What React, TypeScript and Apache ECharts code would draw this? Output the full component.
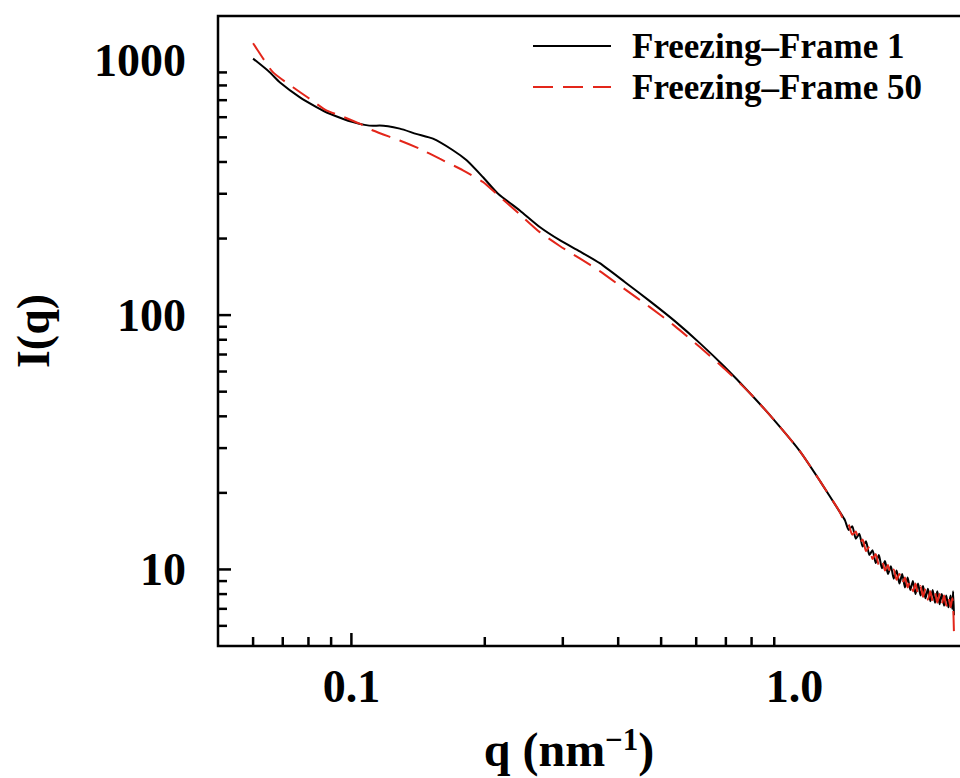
import React, { useEffect, useRef } from 'react';
import * as echarts from 'echarts';

// ---- data (q in nm^-1, I(q) arbitrary units) ----
const seriesNames = ['Freezing–Frame 1', 'Freezing–Frame 50'];

const qFrame1 = [
  0.060, 0.0654, 0.0689, 0.0764, 0.0834, 0.0894, 0.1008, 0.1119, 0.1158, 0.1286,
  0.140, 0.1528, 0.1695, 0.182, 0.198, 0.2143, 0.2399, 0.2661, 0.2953, 0.3276,
  0.3635, 0.4139, 0.4715, 0.537, 0.6113, 0.696, 0.7925, 0.9026, 1.028, 1.141,
  1.266,
  1.30, 1.325, 1.35, 1.375, 1.40, 1.425, 1.45, 1.475, 1.50, 1.525,
  1.55, 1.575, 1.60, 1.625, 1.65, 1.675, 1.70, 1.725, 1.75, 1.775,
  1.80, 1.825, 1.85, 1.875, 1.90, 1.925, 1.95, 1.975, 2.00, 2.025,
  2.05, 2.075, 2.10, 2.125, 2.15, 2.175, 2.20, 2.225, 2.25, 2.27,
  2.28, 2.29,
];
const iFrame1 = [
  1020, 902, 824, 720, 658, 619, 574, 555, 556, 541,
  516, 494, 445, 406, 349, 300, 258, 222, 197, 178,
  160, 135, 113.5, 94.7, 77.6, 62.5, 49.4, 38.4, 29.2, 22.3,
  16.8,
  15.6, 14.3, 14.8, 13.2, 13.8, 12.3, 12.9, 11.4, 11.9, 10.6,
  11.4, 10.1, 10.8, 9.6, 10.3, 9.2, 9.9, 8.8, 9.6, 8.5,
  9.3, 8.3, 9.0, 8.0, 8.8, 7.9, 8.6, 7.7, 8.4, 7.5,
  8.3, 7.4, 8.2, 7.3, 8.0, 7.2, 7.9, 7.1, 7.9, 7.0,
  8.2, 6.6,
];

const qFrame50 = [
  0.060, 0.0615, 0.0665, 0.0738, 0.0805, 0.0878, 0.0941, 0.1044, 0.1119, 0.1286,
  0.1426, 0.1582, 0.1786, 0.198, 0.2125, 0.2399, 0.2661, 0.2953, 0.3276, 0.3635,
  0.4139, 0.4715, 0.537, 0.6113, 0.696, 0.7925, 0.9026, 1.028, 1.141, 1.266,
  1.30, 1.325, 1.35, 1.375, 1.40, 1.425, 1.45, 1.475, 1.50, 1.525,
  1.55, 1.575, 1.60, 1.625, 1.65, 1.675, 1.70, 1.725, 1.75, 1.775,
  1.80, 1.825, 1.85, 1.875, 1.90, 1.925, 1.95, 1.975, 2.00, 2.025,
  2.05, 2.075, 2.10, 2.125, 2.15, 2.175, 2.20, 2.225, 2.25, 2.27,
  2.28, 2.29,
];
const iFrame50 = [
  1172, 1097, 902, 787, 709, 638, 610, 566, 532, 486,
  451, 412, 371, 334, 300, 249, 212, 187, 167, 149,
  126.5, 107.5, 90.5, 74.9, 61.4, 49.4, 38.4, 29.2, 22.3, 16.8,
  15.2, 15.0, 13.7, 14.1, 12.7, 13.1, 11.8, 12.3, 11.0, 11.5,
  10.4, 10.9, 9.9, 10.4, 9.5, 10.0, 9.1, 9.6, 8.8, 9.3,
  8.5, 9.0, 8.2, 8.8, 8.0, 8.6, 7.8, 8.4, 7.6, 8.2,
  7.5, 8.1, 7.4, 8.0, 7.3, 7.9, 7.2, 7.8, 7.1, 7.7,
  7.3, 5.6,
];

// axis ranges and ticks
const X_MIN = 0.05;
const X_MAX = 2.4;
const Y_MIN = 5;
const Y_MAX = 1500;
const xMajorTicks = [0.1];
const xMinorTicks = [0.06, 0.07, 0.08, 0.09, 0.2, 0.3, 0.4, 0.5, 0.6, 0.7, 0.8, 0.9];
const xLabelValues = [0.1, 1.0];
const xLabelTexts = ['0.1', '1.0'];
const yMajorTicks = [10, 100];
const yMinorTicks = [6, 7, 8, 9, 20, 30, 40, 50, 60, 70, 80, 90, 200, 300, 400, 500, 600, 700, 800, 900];
const yLabelValues = [10, 100, 1000];
const yLabelTexts = ['10', '100', '1000'];

const FONT = "'Liberation Serif', 'Times New Roman', Times, serif";

function zip(a: number[], b: number[]) {
  return a.map((v, i) => [v, b[i]]);
}

export default function App() {
  const ref = useRef<HTMLDivElement>(null);

  useEffect(() => {
    if (!ref.current) return;
    const chart = echarts.init(ref.current, null, { renderer: 'svg' });

    const xTickData = [
      ...xMajorTicks.map((v) => [v, Y_MIN, 1]),
      ...xMinorTicks.map((v) => [v, Y_MIN, 0]),
    ];
    const yTickData = [
      ...yMajorTicks.map((v) => [X_MIN, v, 1]),
      ...yMinorTicks.map((v) => [X_MIN, v, 0]),
    ];

    const textStyleBase = {
      fill: '#000',
      fontFamily: FONT,
      fontWeight: 'bold',
      fontSize: 46,
    };

    const option: any = {
      animation: false,
      backgroundColor: '#fff',
      grid: {
        left: 218,
        top: 16,
        width: 745,
        height: 630,
        show: true,
        borderColor: '#000',
        borderWidth: 2.5,
        backgroundColor: 'transparent',
        outerBoundsMode: 'none',
      },
      xAxis: {
        type: 'log',
        logBase: 10,
        min: X_MIN,
        max: X_MAX,
        axisLine: { show: false },
        axisTick: { show: false },
        axisLabel: { show: false },
        splitLine: { show: false },
      },
      yAxis: {
        type: 'log',
        logBase: 10,
        min: Y_MIN,
        max: Y_MAX,
        axisLine: { show: false },
        axisTick: { show: false },
        axisLabel: { show: false },
        splitLine: { show: false },
      },
      legend: {
        orient: 'vertical',
        left: 527,
        top: 22,
        itemWidth: 78,
        itemHeight: 20,
        itemGap: 3,
        selectedMode: false,
        data: seriesNames,
        itemStyle: { opacity: 0 },
        textStyle: {
          fontFamily: FONT,
          fontSize: 35,
          fontWeight: 'bold',
          color: '#000',
          lineHeight: 38,
          padding: [0, 0, 0, 16],
        },
      },
      graphic: [
        {
          type: 'text',
          x: 33,
          y: 331,
          rotation: Math.PI / 2,
          style: {
            ...textStyleBase,
            text: 'I(q)',
            align: 'center',
            verticalAlign: 'middle',
            textAlign: 'center',
            textVerticalAlign: 'middle',
          },
        },
        {
          type: 'text',
          x: 569,
          y: 749,
          style: {
            text: '{a|q (nm}{b|−1}{a|)}',
            align: 'center',
            verticalAlign: 'middle',
            textAlign: 'center',
            textVerticalAlign: 'middle',
            rich: {
              a: { fontFamily: FONT, fontWeight: 'bold', fontSize: 48, lineHeight: 50, color: '#000' },
              b: { fontFamily: FONT, fontWeight: 'bold', fontSize: 31, color: '#000', verticalAlign: 'top' },
            },
          },
        },
      ],
      series: [
        {
          name: seriesNames[0],
          type: 'line',
          data: zip(qFrame1, iFrame1),
          symbol: 'none',
          showSymbol: false,
          smooth: 0.2,
          lineStyle: { color: '#000', width: 2 },
          itemStyle: { color: '#000' },
          z: 2,
        },
        {
          name: seriesNames[1],
          type: 'line',
          data: zip(qFrame50, iFrame50),
          symbol: 'none',
          showSymbol: false,
          smooth: 0.2,
          lineStyle: { color: '#e3261a', width: 2, type: [20, 10] },
          itemStyle: { color: '#e3261a' },
          z: 3,
        },
        {
          type: 'custom',
          name: 'xTicks',
          silent: true,
          clip: false,
          data: xTickData,
          renderItem: (_params: any, api: any) => {
            const p = api.coord([api.value(0), api.value(1)]);
            const len = api.value(2) ? 13 : 9;
            return {
              type: 'line',
              shape: { x1: p[0], y1: p[1], x2: p[0], y2: p[1] - len },
              style: { stroke: '#000', lineWidth: 2.5 },
            };
          },
          z: 5,
        },
        {
          type: 'custom',
          name: 'yTicks',
          silent: true,
          clip: false,
          data: yTickData,
          renderItem: (_params: any, api: any) => {
            const p = api.coord([api.value(0), api.value(1)]);
            const len = api.value(2) ? 13 : 9;
            return {
              type: 'line',
              shape: { x1: p[0], y1: p[1], x2: p[0] + len, y2: p[1] },
              style: { stroke: '#000', lineWidth: 2.5 },
            };
          },
          z: 5,
        },
        {
          type: 'custom',
          name: 'xLabels',
          silent: true,
          clip: false,
          data: xLabelValues.map((v) => [v, Y_MIN]),
          renderItem: (params: any, api: any) => {
            const p = api.coord([api.value(0), api.value(1)]);
            return {
              type: 'text',
              x: p[0],
              y: p[1] + 40,
              style: {
                ...textStyleBase,
                text: xLabelTexts[params.dataIndex],
                align: 'center',
                verticalAlign: 'middle',
                textAlign: 'center',
                textVerticalAlign: 'middle',
              },
            };
          },
        },
        {
          type: 'custom',
          name: 'yLabels',
          silent: true,
          clip: false,
          data: yLabelValues.map((v) => [X_MIN, v]),
          renderItem: (params: any, api: any) => {
            const p = api.coord([api.value(0), api.value(1)]);
            return {
              type: 'text',
              x: p[0] - 32,
              y: p[1],
              style: {
                ...textStyleBase,
                text: yLabelTexts[params.dataIndex],
                align: 'right',
                verticalAlign: 'middle',
                textAlign: 'right',
                textVerticalAlign: 'middle',
              },
            };
          },
        },
      ],
    };

    chart.setOption(option);
    return () => {
      chart.dispose();
    };
  }, []);

  return (
    <div
      ref={ref}
      style={{ position: 'fixed', left: 0, top: 0, width: 960, height: 778, background: '#fff' }}
    />
  );
}
